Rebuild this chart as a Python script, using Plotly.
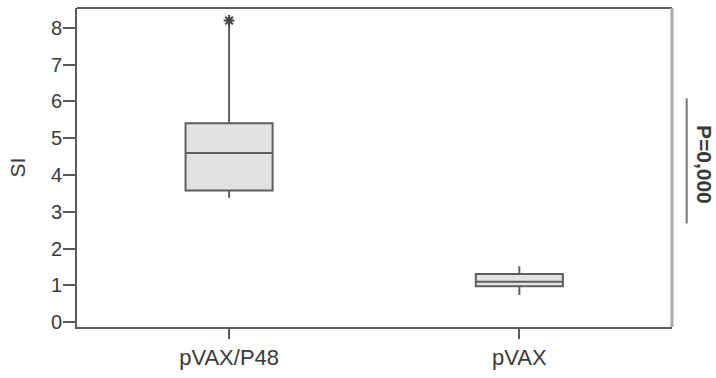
import plotly.graph_objects as go

categories = ["pVAX/P48", "pVAX"]
q1 = [3.58, 0.98]
median = [4.60, 1.10]
q3 = [5.41, 1.31]
lower_whisker = [3.38, 0.74]
upper_whisker = [8.15, 1.52]
outlier_cat = ["pVAX/P48"]
outlier_val = [8.2]
y_ticks = [0, 1, 2, 3, 4, 5, 6, 7, 8]
p_label = "P=0,000"

FONT = "Liberation Sans, Arial, sans-serif"
AX = "#5a5a5a"
TXT = "#3a3a3a"

fig = go.Figure()
fig.add_trace(go.Box(
    x=categories, q1=q1, median=median, q3=q3,
    lowerfence=lower_whisker, upperfence=upper_whisker,
    width=0.3, whiskerwidth=0,
    fillcolor="#e2e2e2", line=dict(color="#5f5f5f", width=2),
    boxpoints=False, showlegend=False, hoverinfo="skip",
))
fig.add_trace(go.Scatter(
    x=outlier_cat, y=outlier_val, mode="markers",
    marker=dict(symbol="asterisk-open", size=9, color="#444",
                line=dict(color="#444", width=2)),
    showlegend=False, hoverinfo="skip",
))

fig.update_layout(
    width=716, height=378,
    margin=dict(l=77, r=44, t=8, b=47),
    plot_bgcolor="white", paper_bgcolor="white",
    font=dict(family=FONT, color=TXT),
    xaxis=dict(
        type="category", range=[-0.524, 1.526],
        showline=True, linecolor=AX, linewidth=2,
        ticks="outside", ticklen=10, tickwidth=2, tickcolor=AX,
        tickfont=dict(size=22, color=TXT),
        showgrid=False, zeroline=False, fixedrange=True,
    ),
    yaxis=dict(
        range=[-0.13, 8.54], tickvals=y_ticks,
        showline=True, linecolor=AX, linewidth=2,
        ticks="outside", ticklen=12, tickwidth=2, tickcolor=AX,
        tickfont=dict(size=20, color=TXT), ticklabelstandoff=-3,
        title=dict(text="SI", font=dict(size=21, color=TXT), standoff=20),
        showgrid=False, zeroline=False, fixedrange=True,
    ),
    shapes=[
        dict(type="line", xref="paper", yref="paper", x0=0, x1=1, y0=1, y1=1,
             line=dict(color=AX, width=2)),
        dict(type="line", xref="paper", yref="paper", x0=1, x1=1, y0=0, y1=1,
             line=dict(color="#a8a8a8", width=3)),
        dict(type="line", xref="paper", yref="paper", x0=1.0247, x1=1.0247,
             y0=0.3246, y1=0.717, line=dict(color="#777", width=2)),
    ],
    annotations=[
        dict(text="<b>" + p_label + "</b>", xref="paper", yref="paper",
             x=1.0538, y=0.511, textangle=90, showarrow=False,
             font=dict(size=21, color=TXT, family=FONT),
             xanchor="center", yanchor="middle"),
    ],
)

fig.write_html(
    "out.html",
    config={"displayModeBar": False},
    post_script="document.body.style.margin='0';document.body.style.overflow='hidden';",
)
